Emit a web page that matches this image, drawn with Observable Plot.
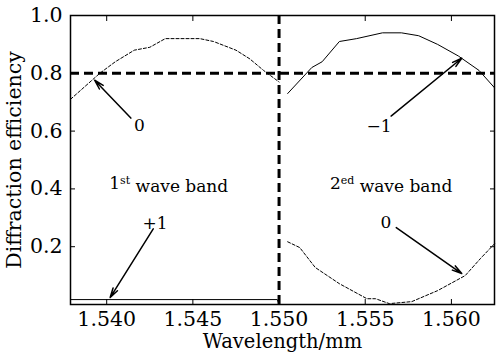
<!DOCTYPE html>
<html><head><meta charset="utf-8">
<script src="https://cdn.jsdelivr.net/npm/d3@7"></script>
<script src="https://cdn.jsdelivr.net/npm/@observablehq/plot@0.6"></script>
<style>
body{margin:0;background:#fff}
</style>
</head><body><div id="chart"></div>
<script>
// Band 1, order 0 (dashed)
const wlB1o0 = [1.5379,1.5396,1.5405,1.5416,1.5425,1.5434,1.5454,1.5462,1.5475,1.5483,1.5491,1.5500];
const effB1o0 = [0.71,0.80,0.84,0.88,0.89,0.92,0.92,0.91,0.88,0.85,0.81,0.77];
// Band 1, order +1 (solid)
const wlB1p1 = [1.5379,1.5499,1.5500];
const effB1p1 = [0.017,0.017,0.0];
// Band 2, order -1 (solid)
const wlB2m1 = [1.5505,1.5519,1.5525,1.5535,1.5545,1.5560,1.5571,1.5581,1.5592,1.5604,1.5616,1.5625];
const effB2m1 = [0.73,0.82,0.84,0.91,0.92,0.94,0.94,0.93,0.90,0.86,0.81,0.75];
// Band 2, order 0 (dashed)
const wlB2o0 = [1.5505,1.5512,1.5521,1.5535,1.5551,1.5556,1.5564,1.5577,1.5592,1.5608,1.5617,1.5625];
const effB2o0 = [0.217,0.197,0.128,0.072,0.02,0.02,0.003,0.01,0.048,0.10,0.16,0.21];

const xTicks = [1.540,1.545,1.550,1.555,1.560];
const yTicks = [0.2,0.4,0.6,0.8,1.0];
const threshold = 0.8;
const bandEdge = 1.550;

const labels = ["0","−1","+1","0","1st wave band","2ed wave band"];
const labelX = [1.5419,1.5558,1.5428,1.5562,1.5436,1.5565];
const labelY = [0.62,0.617,0.279,0.283,0.417,0.417];

const arrX1 = [1.5414,1.5565,1.5427,1.5568];
const arrY1 = [0.645,0.652,0.262,0.266];
const arrX2 = [1.5393,1.5606,1.5402,1.5606];
const arrY2 = [0.776,0.852,0.024,0.107];

const toRows = (xs, ys) => xs.map((x,i)=>({x, y: ys[i]}));
const labelRows = labels.map((t,i)=>({t, x: labelX[i], y: labelY[i]}));
const arrowRows = arrX1.map((x1,i)=>({x1, y1: arrY1[i], x2: arrX2[i], y2: arrY2[i]}));

const FONT = "DejaVu Serif";
const chart = Plot.plot({
  width: 496, height: 352,
  marginLeft: 70, marginRight: 2, marginTop: 15, marginBottom: 48,
  style: {background: "white", color: "black", fontFamily: FONT, fontSize: "17px"},
  x: {domain: [1.5379, 1.5625]},
  y: {domain: [0, 1]},
  marks: [
    Plot.axisX({ticks: xTicks, tickFormat: d3.format(".3f"), tickSize: -5, tickPadding: 12, label: "Wavelength/mm", labelAnchor: "center", labelArrow: "none", labelOffset: 43}),
    Plot.axisX({anchor: "top", ticks: xTicks, tickSize: -5, tickFormat: () => "", label: null}),
    Plot.axisY({ticks: yTicks, tickFormat: d3.format(".1f"), tickSize: -5, tickPadding: 13, label: "Diffraction efficiency", labelAnchor: "center", labelArrow: "none", labelOffset: 64}),
    Plot.axisY({anchor: "right", ticks: yTicks, tickSize: -5, tickFormat: () => "", label: null}),
    Plot.line(toRows(wlB1o0, effB1o0), {x: "x", y: "y", stroke: "black", strokeWidth: 1, strokeDasharray: "3,2"}),
    Plot.line(toRows(wlB1p1, effB1p1), {x: "x", y: "y", stroke: "black", strokeWidth: 1}),
    Plot.line(toRows(wlB2m1, effB2m1), {x: "x", y: "y", stroke: "black", strokeWidth: 1}),
    Plot.line(toRows(wlB2o0, effB2o0), {x: "x", y: "y", stroke: "black", strokeWidth: 1, strokeDasharray: "3,2"}),
    Plot.ruleY([threshold], {stroke: "black", strokeWidth: 3, strokeDasharray: "9,5"}),
    Plot.ruleX([bandEdge], {stroke: "black", strokeWidth: 3, strokeDasharray: "9,5"}),
    Plot.arrow(arrowRows, {x1: "x1", y1: "y1", x2: "x2", y2: "y2", stroke: "black", strokeWidth: 1.5, headLength: 10, headAngle: 30}),
    Plot.text(labelRows, {x: "x", y: "y", text: "t", fill: "black"}),
    Plot.frame({stroke: "black", strokeWidth: 1.5})
  ]
});
document.getElementById("chart").appendChild(chart);
const svg = d3.select(chart);
svg.selectAll("text").style("font-family", FONT).style("font-size", "17px");
// axis text sizes
svg.selectAll("text").filter(function(){ return /^[01]\.\d+$/.test(d3.select(this).text()); }).style("font-size", "20.5px");
svg.selectAll("text").filter(function(){ return d3.select(this).text() === "Wavelength/mm"; }).style("font-size", "19.5px");
svg.selectAll("text").filter(function(){ return d3.select(this).text() === "Diffraction efficiency"; }).style("font-size", "20.5px");
// superscripts
svg.selectAll("text").each(function(){
  const el = d3.select(this);
  const s = el.text();
  const m = s.match(/^(1)(st)( wave band)$/) || s.match(/^(2)(ed)( wave band)$/);
  if (m) {
    el.selectAll("*").remove();
    el.text(null);
    el.append("tspan").text(m[1]);
    el.append("tspan").style("font-size", "11px").attr("dy", "-0.45em").text(m[2]);
    el.append("tspan").attr("dy", "0.45em").text(m[3]);
  }
});
</script></body></html>
